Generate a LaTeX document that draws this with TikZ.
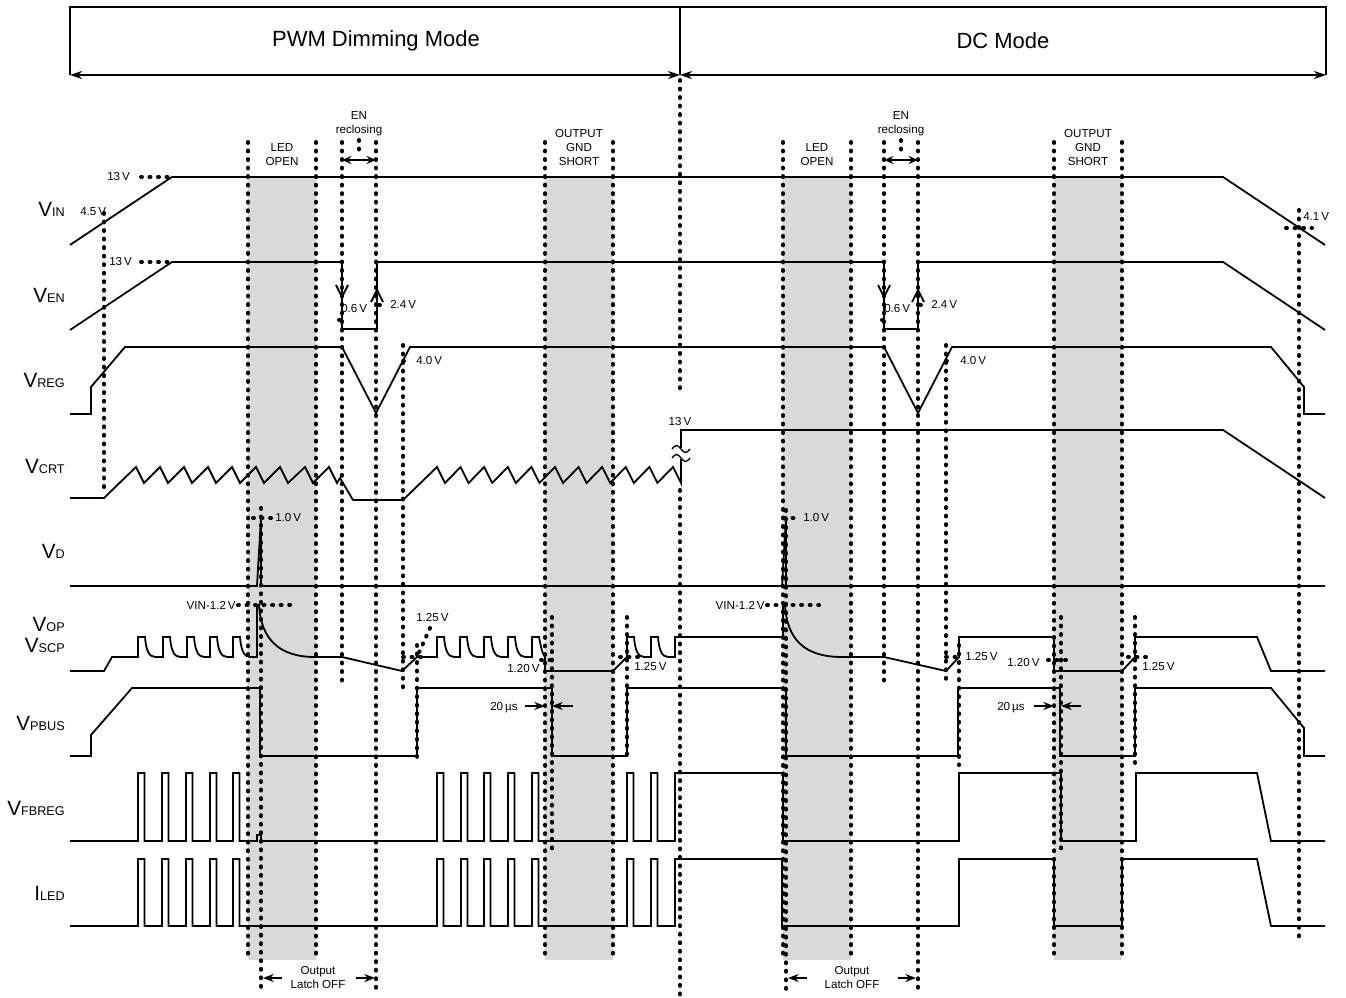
\documentclass[tikz,border=0pt]{standalone}
\usepackage{fontspec}
\setmainfont{Liberation Sans}
\usetikzlibrary{arrows.meta}
\definecolor{bandgray}{RGB}{217,217,217}
\newcommand\siglab[2]{{\fontsize{15.5}{16}\selectfont #1}{\fontsize{9.5}{10}\selectfont #2}}
\begin{document}
\begin{tikzpicture}[x=0.75pt,y=-0.75pt,
  wave/.style={line width=1.35pt, line join=miter},
  dots/.style={line width=3pt, line cap=round, dash pattern=on 0.7pt off 5.7pt},
  small/.style={font=\fontsize{8.7}{10.5}\selectfont, inner sep=0pt, align=center},
  sig/.style={anchor=base east, inner sep=0pt},
  tip/.style={-{Stealth[length=8pt,width=6pt]}, line width=1.3pt},
  dtip/.style={{Stealth[length=7pt,width=6pt]}-{Stealth[length=7pt,width=6pt]}, line width=1.3pt},
  title/.style={font=\fontsize{16.5}{17}\selectfont, inner sep=0pt}
]
\useasboundingbox (0,0) rectangle (1346,998);

% gray bands
\fill[bandgray] (248,177) rectangle (316,960);
\fill[bandgray] (545,177) rectangle (613,960);
\fill[bandgray] (783,177) rectangle (851,960);
\fill[bandgray] (1054,177) rectangle (1122,960);

% dotted vertical lines
\foreach \x/\a/\b in {104/213/490, 248/142/960, 261/508/990, 316/142/960,
  342/142/688, 359/140/156, 376/142/990, 403/345/690, 417/645/763,
  545/142/960, 552/617/855, 613/142/960, 627/617/760, 680/80/395, 680/490/998,
  783/142/960, 786/510/990, 851/142/960, 884/142/688, 901/140/156, 918/142/990,
  946/345/685, 959/645/765, 1054/142/960, 1061/617/855, 1122/142/960,
  1135/617/767, 1299/210/940}
  \draw[dots] (\x,\a) -- (\x,\b);

% short dotted markers
\foreach \a/\b/\y in {141/170/177, 141/170/262, 339/347/320, 379/387/305,
  403/411/361, 882/890/320, 920/928/305, 946/954/361, 1286/1312/228,
  253/273/518, 784/800/518, 238/293/605, 767/820/605, 403/421/657,
  541/557/660, 620/640/657, 946/962/657, 1048/1066/660, 1128/1146/657}
  \draw[dots] (\a,\y) -- (\b,\y);
\draw[dots] (430,628) -- (417,657);

% top box
\draw[line width=1.3pt] (70,75) -- (70,7) -- (1326,7) -- (1326,75);
\draw[line width=1.3pt] (680,7) -- (680,75);
\draw[{Stealth[length=9pt,width=6pt]}-{Stealth[length=9pt,width=6pt]}, line width=1.6pt] (70,75) -- (680,75);
\draw[{Stealth[length=9pt,width=6pt]}-{Stealth[length=9pt,width=6pt]}, line width=1.6pt] (680,75) -- (1326,75);
\node[title] (pwm) at (376,41) {PWM Dimming Mode};
\node[title] (dcm) at (1003,41) {DC Mode};

% signal labels
\node[sig] (lVIN) at (65,217) {\siglab{V}{IN}};
\node[sig] (lVEN) at (65,303) {\siglab{V}{EN}};
\node[sig] (lVREG) at (65,388) {\siglab{V}{REG}};
\node[sig] (lVCRT) at (65,474) {\siglab{V}{CRT}};
\node[sig] (lVD) at (65,558) {\siglab{V}{D}};
\node[sig] (lVOP) at (65,631) {\siglab{V}{OP}};
\node[sig] (lVSCP) at (65,652) {\siglab{V}{SCP}};
\node[sig] (lVPBUS) at (65,730) {\siglab{V}{PBUS}};
\node[sig] (lVFB) at (65,815) {\siglab{V}{FBREG}};
\node[sig] (lILED) at (65,900) {\siglab{I}{LED}};

% VIN
\draw[wave] (70,245) -- (172,177) -- (1223,177) -- (1325,245);
% VEN
\draw[wave] (70,330) -- (172,262) -- (342,262) -- (342,329) -- (377,329) -- (377,262)
  -- (884,262) -- (884,329) -- (918,329) -- (918,262) -- (1223,262) -- (1325,330);
\draw[wave] (336,285) -- (342,297) -- (348,285);
\draw[wave] (371,302) -- (377,290) -- (383,302);
\draw[wave] (878,285) -- (884,297) -- (890,285);
\draw[wave] (912,302) -- (918,290) -- (924,302);
% VREG
\draw[wave] (70,414) -- (91,414) -- (91,387) -- (125,347) -- (342,347) -- (376,413) -- (410,347)
  -- (884,347) -- (918,413) -- (952,347) -- (1271,347) -- (1304,387) -- (1304,414) -- (1325,414);
% VCRT
\draw[wave] (70,498) -- (104,498) -- (136,467)
  -- (144,483) -- (160,467) -- (168,483) -- (184,467) -- (192,483) -- (208,467)
  -- (216,483) -- (232,467) -- (240,483) -- (256,467) -- (264,483) -- (280,467)
  -- (288,483) -- (305,467) -- (313,483) -- (329,467) -- (337,483) -- (340,478)
  -- (353,500) -- (403,500) -- (437,467)
  \foreach \k in {0,...,9} { -- ({445+23.6*\k},483) -- ({460.6+23.6*\k},467) }
  -- (681,483) -- (681,459);
\draw[wave] (681,448) -- (681,430) -- (1223,430) -- (1325,498);
\draw[line width=1pt] (672,449) sin (676.5,445.5) cos (681,449) sin (685.5,452.5) cos (690,449);
\draw[line width=1pt] (672,458) sin (676.5,454.5) cos (681,458) sin (685.5,461.5) cos (690,458);
% VD
\draw[wave] (70,586) -- (257,586) -- (261,518) -- (261,586) -- (782,586) -- (786,518) -- (786,586) -- (1325,586);
% VOP / VSCP
\draw[wave] (70,671) -- (104,671) -- (112,657)
  \foreach \x in {138,163,187,210,233} { -- (\x,657) -- (\x,637) -- ({\x+7},637) .. controls ({\x+8},650) and ({\x+11},657) .. ({\x+17},657) }
  -- (257,657) -- (257,605) -- (259,605) .. controls (261,640) and (280,657) .. (315,657)
  -- (342,657) -- (402,671) -- (417,657)
  \foreach \x in {437,460,484,508} { -- (\x,657) -- (\x,637) -- ({\x+7},637) .. controls ({\x+8},650) and ({\x+11},657) .. ({\x+17},657) }
  -- (532,657) -- (532,637) -- (539,637) .. controls (541,648) and (543,655) .. (545,657)
  -- (545,671) -- (613,671) -- (627,657)
  \foreach \x in {627,651} { -- (\x,657) -- (\x,637) -- ({\x+7},637) .. controls ({\x+8},650) and ({\x+11},657) .. ({\x+17},657) }
  -- (675,657) -- (675,637) -- (783,637) -- (783,605) -- (785,605) .. controls (787,640) and (805,657) .. (842,657)
  -- (884,657) -- (946,671) -- (959,657) -- (959,637) -- (1054,637) -- (1054,671) -- (1122,671)
  -- (1135,657) -- (1135,637) -- (1257,637) -- (1271,671) -- (1325,671);
% VPBUS
\draw[wave] (70,756) -- (91,756) -- (91,735) -- (132,688) -- (260,688) -- (260,756) -- (417,756)
  -- (417,688) -- (552,688) -- (552,756) -- (627,756) -- (627,688) -- (786,688) -- (786,756)
  -- (958,756) -- (958,688) -- (1060,688) -- (1060,756) -- (1135,756) -- (1135,688) -- (1271,688)
  -- (1304,728) -- (1304,756) -- (1325,756);
% VFBREG
\draw[wave] (70,841)
  \foreach \x in {138,162,186,210,233} { -- (\x,841) -- (\x,773) -- ({\x+6.5},773) -- ({\x+6.5},841) }
  -- (257,841) -- (257,835) -- (261,835) -- (261,841)
  \foreach \x in {437,461,484,508,532,627,651} { -- (\x,841) -- (\x,773) -- ({\x+6.5},773) -- ({\x+6.5},841) }
  -- (675,841) -- (675,773) -- (783,773) -- (783,841) -- (959,841) -- (959,773) -- (1061,773)
  -- (1061,841) -- (1136,841) -- (1136,773) -- (1257,773) -- (1271,841) -- (1325,841);
% ILED
\draw[wave] (70,926)
  \foreach \x in {138,162,186,210,233,437,461,484,508,532,627,651} { -- (\x,926) -- (\x,859) -- ({\x+6.5},859) -- ({\x+6.5},926) }
  -- (675,926) -- (675,859) -- (782,859) -- (782,926) -- (959,926) -- (959,859) -- (1054,859)
  -- (1054,926) -- (1122,926) -- (1122,859) -- (1257,859) -- (1271,926) -- (1325,926);

% band / region texts
\node[small] (led1) at (282,155) {LED\\OPEN};
\node[small] (sh1) at (579,148) {OUTPUT\\GND\\SHORT};
\node[small] (led2) at (817,155) {LED\\OPEN};
\node[small] (sh2) at (1088,148) {OUTPUT\\GND\\SHORT};
\node[small] (en1) at (359,124) {EN\\reclosing};
\node[small] (en2) at (901,124) {EN\\reclosing};
\draw[dtip] (342,160) -- (376,160);
\draw[dtip] (884,160) -- (918,160);
\node[small] (lo1) at (318,978) {Output\\Latch OFF};
\node[small] (lo2) at (852,978) {Output\\Latch OFF};
\draw[tip] (282,978) -- (263,978);
\draw[tip] (356,978) -- (375,978);
\draw[tip] (807,978) -- (788,978);
\draw[tip] (898,978) -- (916,978);

% value labels
\node[small, anchor=west] (v13a) at (107,177) {13\,V};
\node[small, anchor=west] (v13b) at (109,262) {13\,V};
\node[small, anchor=west] (v45) at (80,212) {4.5\,V};
\node[small, anchor=west] (v41) at (1303,217) {4.1\,V};
\node[small, anchor=west] (v06a) at (341,309) {0.6\,V};
\node[small, anchor=west] (v24a) at (390,304) {2.4\,V};
\node[small, anchor=west] (v06b) at (884,309) {0.6\,V};
\node[small, anchor=west] (v24b) at (931,304) {2.4\,V};
\node[small, anchor=west] (v40a) at (416,361) {4.0\,V};
\node[small, anchor=west] (v40b) at (960,361) {4.0\,V};
\node[small] (v13c) at (680,422) {13\,V};
\node[small, anchor=west] (v10a) at (275,518) {1.0\,V};
\node[small, anchor=west] (v10b) at (803,518) {1.0\,V};
\node[small, anchor=east] (vin12a) at (236,605) {VIN-1.2\,V};
\node[small, anchor=east] (vin12b) at (765,605) {VIN-1.2\,V};
\node[small, anchor=west] (v125a) at (416,618) {1.25\,V};
\node[small, anchor=west] (v120a) at (507,669) {1.20\,V};
\node[small, anchor=west] (v125b) at (634,667) {1.25\,V};
\node[small, anchor=west] (v125c) at (965,657) {1.25\,V};
\node[small, anchor=west] (v120b) at (1007,663) {1.20\,V};
\node[small, anchor=west] (v125d) at (1142,667) {1.25\,V};
\node[small, anchor=base west] (us1) at (490,710) {20\,µs};
\node[small, anchor=base west] (us2) at (997,710) {20\,µs};
\draw[tip] (525,706) -- (545,706);
\draw[tip] (573,706) -- (552,706);
\draw[tip] (1034,706) -- (1054,706);
\draw[tip] (1081,706) -- (1061,706);
\end{tikzpicture}
\end{document}
